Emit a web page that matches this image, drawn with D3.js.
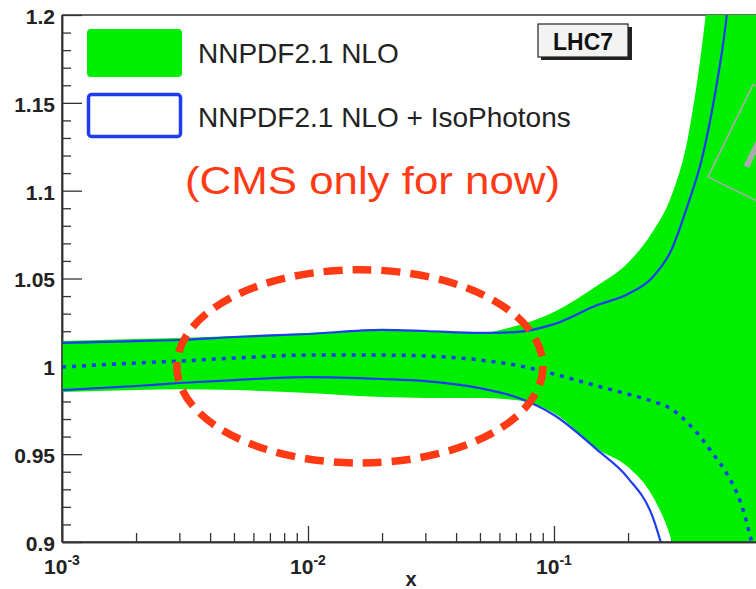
<!DOCTYPE html>
<html>
<head>
<meta charset="utf-8">
<script src="https://cdn.jsdelivr.net/npm/d3@7"></script>
<style>
  body { margin: 0; background: #fff; }
  svg { display: block; }
</style>
</head>
<body>
<div id="chart"></div>
<script>
// x points (log scale)
const xPoints = [0.001, 0.002, 0.003, 0.005, 0.01, 0.02, 0.03, 0.05, 0.07, 0.1, 0.15, 0.2, 0.25, 0.3, 0.35, 0.4, 0.45, 0.5, 0.6, 0.7, 0.8];

// NNPDF2.1 NLO band (green)
const nnpdfHigh = [1.0144, 1.0155, 1.0161, 1.0172, 1.0190, 1.0207, 1.0201, 1.0190, 1.0230, 1.0310, 1.0460, 1.0590, 1.0760, 1.0970, 1.1300, 1.1830, 1.25, 1.33, 1.45, 1.6, 1.8];
const nnpdfLow = [0.9854, 0.9865, 0.9870, 0.9865, 0.9848, 0.9825, 0.9820, 0.9820, 0.9808, 0.9734, 0.9530, 0.9427, 0.9267, 0.9010, 0.86, 0.82, 0.78, 0.74, 0.68, 0.62, 0.55];

// NNPDF2.1 NLO + IsoPhotons (blue)
const isoHigh = [1.0133, 1.0144, 1.0150, 1.0167, 1.0184, 1.0207, 1.0201, 1.0190, 1.0195, 1.0240, 1.0349, 1.0412, 1.0503, 1.0662, 1.0920, 1.1186, 1.1540, 1.1960, 1.33, 1.5, 1.7];
const isoLow = [0.9865, 0.9888, 0.9905, 0.9922, 0.9939, 0.9928, 0.9916, 0.9876, 0.9825, 0.9723, 0.9524, 0.9364, 0.9154, 0.8780, 0.84, 0.80, 0.76, 0.72, 0.66, 0.6, 0.55];
const isoCentral = [0.9996, 1.0019, 1.0030, 1.0047, 1.0064, 1.0064, 1.0059, 1.0036, 1.0007, 0.9956, 0.9888, 0.9842, 0.9802, 0.9757, 0.9677, 0.9586, 0.9489, 0.9398, 0.9137, 0.869, 0.8];

// axes
const yMajorTicks = [0.9, 0.95, 1.0, 1.05, 1.1, 1.15, 1.2];
const yTickLabels = ["0.9", "0.95", "1", "1.05", "1.1", "1.15", "1.2"];
const xDecades = [0.001, 0.01, 0.1];
const xDecadeExp = ["-3", "-2", "-1"];

// annotation ellipse extent (data coords)
const ellipseX = [0.00293, 0.0902];
const ellipseY = [0.945, 1.055];

const legendLabels = ["NNPDF2.1 NLO", "NNPDF2.1 NLO + IsoPhotons"];

const W = 756, H = 589;
const FONT = "'Liberation Sans', Arial, Helvetica, sans-serif";
const GREEN = "#00ee00";
const BLUE = "#1f3cf0";
const RED = "#ff3a14";
const AXIS = "#333";

const svg = d3.select("#chart").append("svg").attr("width", W).attr("height", H);

const xScale = d3.scaleLog().domain([0.001, 1]).range([62, 800]);
const yScale = d3.scaleLinear().domain([0.9, 1.2]).range([542, 15]);

const data = xPoints.map((x, i) => ({
  x, lo: nnpdfLow[i], hi: nnpdfHigh[i], isoLo: isoLow[i], isoHi: isoHigh[i], mid: isoCentral[i]
}));

// clip to plot area
svg.append("clipPath").attr("id", "plotclip")
  .append("rect").attr("x", 62).attr("y", 15).attr("width", 800 - 62).attr("height", 542 - 15);

// minor ticks
const yMinor = d3.range(0, 31).map(i => +(0.9 + i * 0.01).toFixed(2)).filter(v => !yMajorTicks.some(t => Math.abs(t - v) < 1e-6));
const xMinor = [];
xDecades.forEach(d => { for (let k = 2; k <= 9; k++) xMinor.push(d * k); });

const yMinorAxis = svg.append("g").attr("transform", "translate(62,0)")
  .call(d3.axisLeft(yScale).tickValues(yMinor).tickSize(-9).tickSizeOuter(0).tickFormat(""));
const yMajorAxis = svg.append("g").attr("transform", "translate(62,0)")
  .call(d3.axisLeft(yScale).tickValues(yMajorTicks).tickSize(-20).tickSizeOuter(0).tickPadding(7)
    .tickFormat((d, i) => yTickLabels[i]));
const xMinorAxis = svg.append("g").attr("transform", "translate(0,542)")
  .call(d3.axisBottom(xScale).tickValues(xMinor.filter(v => v < 1)).tickSize(-9).tickSizeOuter(0).tickFormat(""));
const xMajorAxis = svg.append("g").attr("transform", "translate(0,542)")
  .call(d3.axisBottom(xScale).tickValues(xDecades).tickSize(-16).tickSizeOuter(0).tickFormat(""));

[yMinorAxis, yMajorAxis, xMinorAxis, xMajorAxis].forEach(a => {
  a.selectAll("line").attr("stroke", AXIS).attr("stroke-width", 1.3);
  a.select(".domain").attr("stroke", AXIS).attr("stroke-width", 1.5);
});
yMajorAxis.selectAll("text")
  .attr("font-family", FONT).attr("font-size", 21).attr("font-weight", "bold").attr("fill", "#222")
  .attr("dy", "0.4em");

// x decade labels with superscripts
const xl = svg.append("g");
xDecades.forEach((d, i) => {
  const t = xl.append("text")
    .attr("x", xScale(d)).attr("y", 574)
    .attr("text-anchor", "middle")
    .attr("font-family", FONT).attr("font-weight", "bold").attr("fill", "#222");
  t.append("tspan").attr("font-size", 21).text("10");
  t.append("tspan").attr("font-size", 14).attr("dy", -9).text(xDecadeExp[i]);
});

// x title
svg.append("text").attr("x", 411).attr("y", 586).attr("text-anchor", "middle")
  .attr("font-family", FONT).attr("font-weight", "bold").attr("font-size", 20).attr("fill", "#222").text("x");

// top frame line
svg.append("line").attr("x1", 62).attr("x2", W).attr("y1", 15).attr("y2", 15)
  .attr("stroke", AXIS).attr("stroke-width", 1.5);

const plot = svg.append("g").attr("clip-path", "url(#plotclip)");

// green band
const band = d3.area()
  .x(d => xScale(d.x))
  .y0(d => yScale(d.lo))
  .y1(d => yScale(d.hi))
  .curve(d3.curveMonotoneX);
plot.append("path").datum(data).attr("d", band).attr("fill", GREEN);

// blue envelope lines and dotted central value
const lineHi = d3.line().x(d => xScale(d.x)).y(d => yScale(d.isoHi)).curve(d3.curveMonotoneX);
const lineLo = d3.line().x(d => xScale(d.x)).y(d => yScale(d.isoLo)).curve(d3.curveMonotoneX);
const lineMid = d3.line().x(d => xScale(d.x)).y(d => yScale(d.mid)).curve(d3.curveMonotoneX);

plot.append("path").datum(data).attr("d", lineHi)
  .attr("fill", "none").attr("stroke", BLUE).attr("stroke-width", 2.2);
plot.append("path").datum(data).attr("d", lineLo)
  .attr("fill", "none").attr("stroke", BLUE).attr("stroke-width", 2.2);
plot.append("path").datum(data).attr("d", lineMid)
  .attr("fill", "none").attr("stroke", BLUE).attr("stroke-width", 3.5)
  .attr("stroke-dasharray", "4,6");

// left spine and bottom line on top of the band
svg.append("line").attr("x1", 62).attr("x2", 62).attr("y1", 15).attr("y2", 542)
  .attr("stroke", AXIS).attr("stroke-width", 1.5);
svg.append("line").attr("x1", 62).attr("x2", W).attr("y1", 542).attr("y2", 542)
  .attr("stroke", AXIS).attr("stroke-width", 1.5);

// grey rotated box at right edge (partly cut)
const gbox = svg.append("g").attr("transform", "translate(708,177) rotate(-64)");
gbox.append("rect").attr("x", 0).attr("y", 0).attr("width", 103).attr("height", 120)
  .attr("fill", "none").attr("stroke", "#aaa").attr("stroke-width", 1.6);
gbox.append("line").attr("x1", 26).attr("x2", 90).attr("y1", 30).attr("y2", 30)
  .attr("stroke", "#aaa").attr("stroke-width", 6);

// red dashed ellipse
const ex0 = xScale(ellipseX[0]), ex1 = xScale(ellipseX[1]);
const ey0 = yScale(ellipseY[0]), ey1 = yScale(ellipseY[1]);
svg.append("ellipse")
  .attr("cx", (ex0 + ex1) / 2).attr("cy", (ey0 + ey1) / 2)
  .attr("rx", (ex1 - ex0) / 2).attr("ry", (ey0 - ey1) / 2)
  .attr("fill", "none").attr("stroke", RED).attr("stroke-width", 7.5)
  .attr("stroke-dasharray", "19,10");

// legend
const legend = svg.append("g");
legend.append("rect").attr("x", 87).attr("y", 29).attr("width", 95).attr("height", 48).attr("rx", 4)
  .attr("fill", GREEN);
legend.append("rect").attr("x", 88.5).attr("y", 94.5).attr("width", 92).attr("height", 42).attr("rx", 3)
  .attr("fill", "none").attr("stroke", BLUE).attr("stroke-width", 3.5);
legend.selectAll("text.leg")
  .data(legendLabels)
  .enter()
  .append("text")
  .attr("class", "leg")
  .attr("x", 198)
  .attr("y", (d, i) => 53 + i * 64)
  .attr("dy", "0.36em")
  .attr("font-family", FONT).attr("font-size", 28).attr("fill", "#222")
  .text(d => d);

// red note
svg.append("text").attr("x", 185).attr("y", 194)
  .attr("font-family", FONT).attr("font-size", 39).attr("fill", RED)
  .attr("textLength", 375).attr("lengthAdjust", "spacingAndGlyphs")
  .text("(CMS only for now)");

// LHC7 box
svg.append("rect").attr("x", 541).attr("y", 27).attr("width", 91).attr("height", 33).attr("fill", "#222");
svg.append("rect").attr("x", 538).attr("y", 24).attr("width", 90).attr("height", 33)
  .attr("fill", "#f3f3f3").attr("stroke", "#222").attr("stroke-width", 1.2);
svg.append("text").attr("x", 583).attr("y", 41).attr("dy", "0.36em").attr("text-anchor", "middle")
  .attr("font-family", FONT).attr("font-weight", "bold").attr("font-size", 24).attr("fill", "#111")
  .attr("textLength", 60).attr("lengthAdjust", "spacingAndGlyphs")
  .text("LHC7");
</script>
</body>
</html>
